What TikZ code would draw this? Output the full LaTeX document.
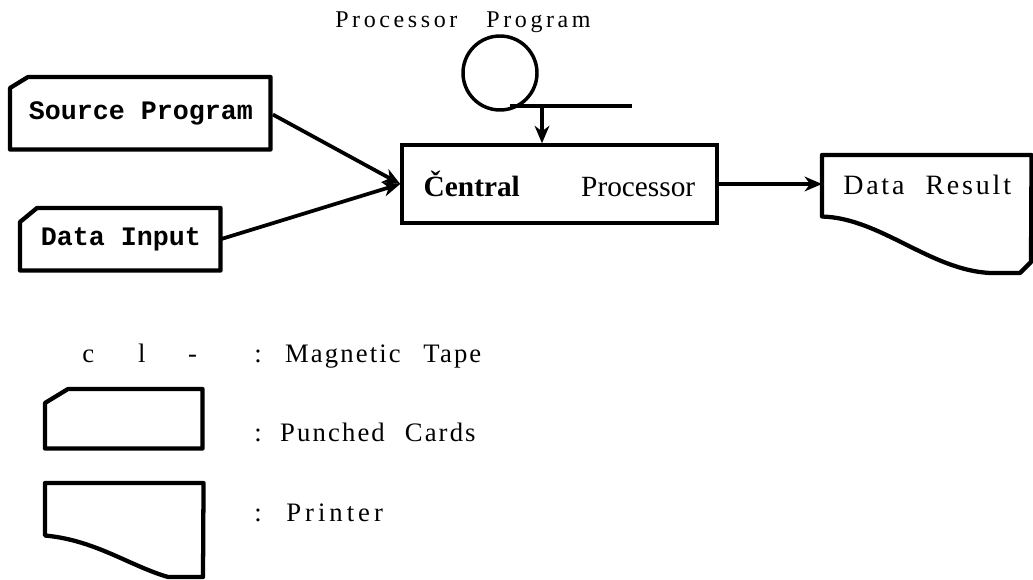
\documentclass[tikz,border=0pt]{standalone}
\usepackage{fontspec}
\setmainfont{Liberation Serif}
\setmonofont{Liberation Mono}
\newfontfamily\hdfont[LetterSpace=15]{Liberation Serif}
\newfontfamily\resfont[LetterSpace=10]{Liberation Serif}
\newfontfamily\legfont[LetterSpace=8]{Liberation Serif}
\newfontfamily\prfont[LetterSpace=15]{Liberation Serif}
\usetikzlibrary{arrows.meta}
\tikzset{
  outline/.style={line width=3.2pt, line join=round, line cap=round},
  procbox/.style={draw, line width=2.6pt, inner sep=0pt},
  hole/.style={inner sep=0pt, draw=none},
  arr/.style={line width=2.8pt, -{Stealth[length=13pt,width=11pt,inset=4pt]}},
  ttlabel/.style={font=\fontsize{20}{22}\selectfont\ttfamily\bfseries, inner sep=0pt},
  leglabel/.style={font=\fontsize{20}{22}\selectfont\legfont, inner sep=0pt, anchor=base west},
}
\begin{document}
\begin{tikzpicture}[x=0.75pt,y=-0.75pt]
\useasboundingbox (0,0) rectangle (1033,580);

% title
\node[font=\fontsize{18}{20}\selectfont\hdfont, inner sep=0pt, anchor=base west] (title) at (335,28) {Processor\hspace{21.75pt}Program};

% magnetic tape (processor program)
\node[draw, circle, line width=2.6pt, minimum size=74*0.75pt, inner sep=0pt] (tape) at (500,73) {};
\coordinate (tapeL) at (510,106);
\coordinate (tapeR) at (632,106);
\draw[line width=3.2pt] (tapeL) -- (tapeR);
\coordinate (tapeOut) at (542,106);

% central processor
\node[procbox, minimum width=315*0.75pt, minimum height=78*0.75pt] (cpu) at (559.5,184)
  {\fontsize{22}{24}\selectfont\textbf{Čentral}\hspace{46pt}Processor};
\draw[arr] (tapeOut) -- (tapeOut |- cpu.north);

% source program card
\node[hole, minimum width=260*0.75pt, minimum height=72*0.75pt, anchor=north west] (src) at (10,77) {};
\draw[outline] ([yshift=-11*0.75pt]src.north west) -- ([xshift=18*0.75pt]src.north west)
  -- (src.north east) -- (src.south east) -- (src.south west) -- cycle;
\node[ttlabel] (srct) at (141,113) {Source Program};

% data input card
\node[hole, minimum width=200*0.75pt, minimum height=62*0.75pt, anchor=north west] (din) at (20,208) {};
\draw[outline] ([yshift=-14*0.75pt]din.north west) -- ([xshift=17*0.75pt]din.north west)
  -- (din.north east) -- (din.south east) -- (din.south west) -- cycle;
\node[ttlabel] (dint) at (121,239) {Data Input};

\draw[arr, shorten <=2pt] (src.east) -- (cpu.west);
\draw[arr] (din.east) -- (cpu.west);

% data result printer
\node[hole, minimum width=209*0.75pt, minimum height=61*0.75pt, anchor=north west] (res) at (822,155) {};
\draw[outline] (res.south west) -- (res.north west) -- (res.north east) -- (1031,262)
  -- (1020,273) -- (990,273) .. controls (930,270) and (880,218) .. (res.south west) -- cycle;
\node[font=\fontsize{21}{23}\selectfont\resfont, inner sep=0pt, anchor=base west] (rest) at (843,195) {Data\hspace{15.75pt}Result};
\draw[arr] (cpu.east) -- (cpu.east -| res.west);

% legend
\node[leglabel] (tapesym) at (82,363) {c\hspace{33pt}l\hspace{32pt}-};
\node[leglabel] (tapeleg) at (254,363) {:\hspace{17.6pt}Magnetic\hspace{17pt}Tape};

\node[hole, minimum width=157*0.75pt, minimum height=59*0.75pt, anchor=north west] (cardsym) at (45,389) {};
\draw[outline] ([yshift=-14*0.75pt]cardsym.north west) -- ([xshift=23*0.75pt]cardsym.north west)
  -- (cardsym.north east) -- (cardsym.south east) -- (cardsym.south west) -- cycle;
\node[leglabel] (cardleg) at (254,442) {:\hspace{13.9pt}Punched\hspace{15pt}Cards};

\node[hole, minimum width=158*0.75pt, minimum height=52*0.75pt, anchor=north west] (prsym) at (45,483) {};
\draw[outline] (prsym.south west) -- (prsym.north west) -- (prsym.north east) -- (203,577)
  -- (168,577) .. controls (130,566) and (95,540) .. (prsym.south west) -- cycle;
\node[leglabel, font=\fontsize{20}{22}\selectfont\prfont] (prleg) at (254,522) {:\hspace{18.5pt}Printer};
\end{tikzpicture}
\end{document}
